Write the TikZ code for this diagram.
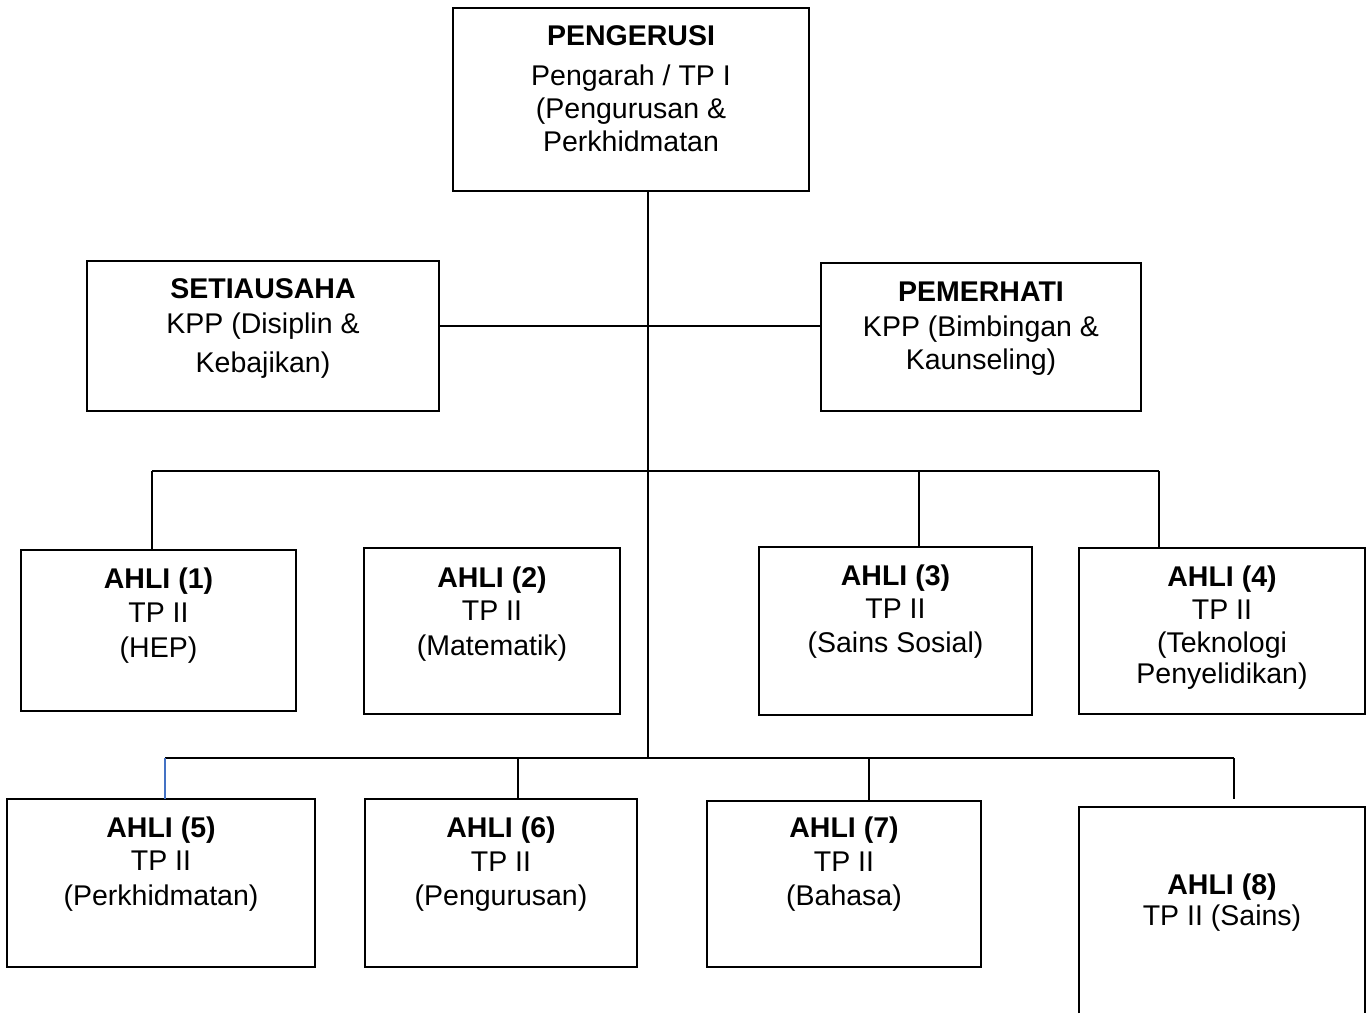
\documentclass[tikz,border=0pt]{standalone}
\usepackage{fontspec}
\setmainfont{Liberation Sans}
\definecolor{linkblue}{RGB}{68,114,196}
\begin{document}
\begin{tikzpicture}[x=1pt,y=-1pt,
  box/.style={draw,line width=2pt,inner sep=0pt,outer sep=0pt,anchor=north west},
  txt/.style={align=center,inner sep=0pt,anchor=base,font=\fontsize{28.5pt}{33pt}\selectfont},
  link/.style={line width=1.6pt}]
\useasboundingbox (0,0) rectangle (1370,1013);

\node [box,minimum width=356pt,minimum height=183pt] (chair) at (453,8) {};
\node [txt] (chair-t) at ([yshift=-143pt]chair.north) {\textbf{PENGERUSI}\\[7pt]Pengarah / TP I\\(Pengurusan \&\\Perkhidmatan};

\node [box,minimum width=352pt,minimum height=150pt] (sec) at (87,261) {};
\node [txt] (sec-t) at ([yshift=-111pt]sec.north) {\textbf{SETIAUSAHA}\\[2pt]KPP (Disiplin \&\\[6pt]Kebajikan)};
\node [box,minimum width=320pt,minimum height=148pt] (pem) at (821,263) {};
\node [txt] (pem-t) at ([yshift=-106pt]pem.north) {\textbf{PEMERHATI}\\[2pt]KPP (Bimbingan \&\\Kaunseling)};
%%%%%%%%%%%%%%%%%%%%%%%%%%
\node [box,minimum width=275pt,minimum height=161pt] (ahli1) at (21,550) {};
\node [txt] (ahli1-t) at ([yshift=-107pt]ahli1.north) {\textbf{AHLI (1)}\\[1pt]TP II\\[2pt](HEP)};
\node [box,minimum width=256pt,minimum height=166pt] (ahli2) at (364,548) {};
\node [txt] (ahli2-t) at ([yshift=-107pt]ahli2.north) {\textbf{AHLI (2)}\\TP II\\[2pt](Matematik)};
\node [box,minimum width=273pt,minimum height=168pt] (ahli3) at (759,547) {};
\node [txt] (ahli3-t) at ([yshift=-105pt]ahli3.north) {\textbf{AHLI (3)}\\TP II\\[1pt](Sains Sosial)};
\node [box,minimum width=286pt,minimum height=166pt] (ahli4) at (1079,548) {};
\node [txt] (ahli4-t) at ([yshift=-135pt]ahli4.north) {\textbf{AHLI (4)}\\TP II\\(Teknologi\\[-2pt]Penyelidikan)};
%%%%%%%%%%%%%%%%%%%%%%%%%%
\node [box,minimum width=308pt,minimum height=168pt] (ahli5) at (7,799) {};
\node [txt] (ahli5-t) at ([yshift=-106pt]ahli5.north) {\textbf{AHLI (5)}\\TP II\\[2pt](Perkhidmatan)};
\node [box,minimum width=272pt,minimum height=168pt] (ahli6) at (365,799) {};
\node [txt] (ahli6-t) at ([yshift=-106pt]ahli6.north) {\textbf{AHLI (6)}\\[1pt]TP II\\[1pt](Pengurusan)};
\node [box,minimum width=274pt,minimum height=166pt] (ahli7) at (707,801) {};
\node [txt] (ahli7-t) at ([yshift=-104pt]ahli7.north) {\textbf{AHLI (7)}\\[1pt]TP II\\[1pt](Bahasa)};
\node [box,draw=none,minimum width=286pt,minimum height=206pt] (ahli8) at (1079,807) {};
\draw [line width=2pt] (ahli8.south west) -- (ahli8.north west) -- (ahli8.north east) -- (ahli8.south east);
\node [txt] (ahli8-t) at ([yshift=-118pt]ahli8.north) {\textbf{AHLI (8)}\\[-2pt]TP II (Sains)};
%%%%%%%%%%%%%%%%%%%%%%%%%%
\coordinate (j1) at (648,471);
\coordinate (j2) at (648,758);
\coordinate (b1) at (152,471);
\coordinate (b3) at (919,471);
\coordinate (b4) at (1159,471);
\coordinate (b5) at (165,758);
\coordinate (b6) at (518,758);
\coordinate (b7) at (869,758);
\coordinate (b8) at (1234,758);

\draw [link] (j1 |- chair.south) -- (j2);
\draw [link] ([yshift=10pt]sec.east) -- ([yshift=10pt]sec.east -| pem.west);
\draw [link] (b1) -- (b4);
\draw [link] (b1) -- (b1 |- ahli1.north);
\draw [link] (b3) -- (b3 |- ahli3.north);
\draw [link] (b4) -- (b4 |- ahli4.north);
\draw [link] (b5) -- (b8);
\draw [link,draw=linkblue] (b5) -- (b5 |- ahli5.north);
\draw [link] (b6) -- (b6 |- ahli6.north);
\draw [link] (b7) -- (b7 |- ahli7.north);
\draw [link] (b8) -- ([yshift=8pt]b8 |- ahli8.north);

\end{tikzpicture}
\end{document}
